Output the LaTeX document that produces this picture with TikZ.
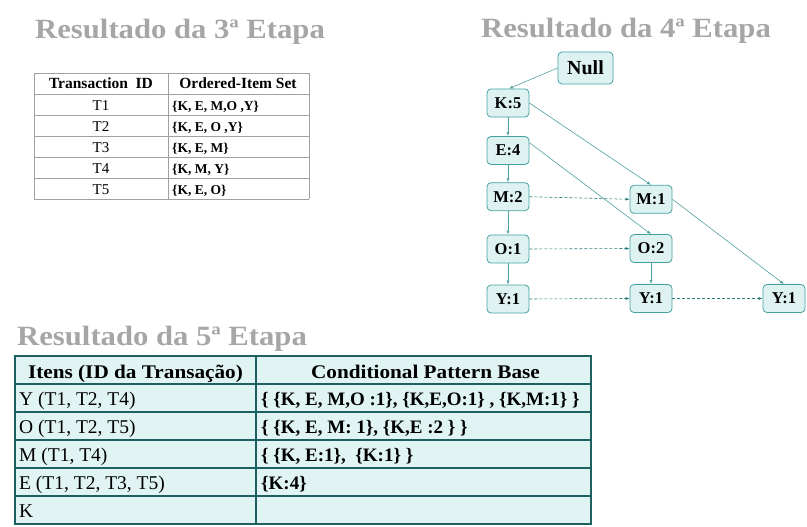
\documentclass[tikz,border=0pt]{standalone}
\usepackage{fontspec}
\setmainfont{Liberation Serif}
\newfontfamily\titlefont[FakeStretch=1.1]{Liberation Serif}
\usetikzlibrary{arrows.meta}
\definecolor{titlegray}{RGB}{166,166,166}
\definecolor{nodefill}{RGB}{222,242,242}
\definecolor{nodeborder}{RGB}{70,160,160}
\definecolor{edgesolid}{RGB}{80,160,160}
\definecolor{edgedash}{RGB}{40,125,125}
\definecolor{tabgray}{RGB}{160,160,160}
\definecolor{tabfill}{RGB}{224,244,244}
\definecolor{tabline}{RGB}{30,95,95}
\tikzset{
  titletext/.style={anchor=base west, inner sep=0pt, text=titlegray, font=\titlefont\bfseries\fontsize{27.9}{30}\selectfont},
  treenode/.style={draw=nodeborder, fill=nodefill, rounded corners=4pt, minimum width=42pt, minimum height=28pt, inner sep=0pt, line width=0.8pt, font=\bfseries\fontsize{16.5}{18}\selectfont},
  solidarrow/.style={draw=edgesolid, line width=0.6pt, -{Latex[length=4pt,width=3pt]}},
  dasharrow/.style={draw=edgedash, line width=0.6pt, dashed, dash pattern=on 3pt off 2pt, -{Latex[length=4pt,width=3pt]}},
  tabAhead/.style={anchor=base, inner sep=0pt, font=\bfseries\fontsize{15.5}{17}\selectfont},
  tabAcell/.style={anchor=base, inner sep=0pt, font=\fontsize{15}{17}\selectfont},
  tabAset/.style={anchor=base west, inner sep=0pt, font=\bfseries\fontsize{13.5}{15}\selectfont},
  tabBhead/.style={anchor=base, inner sep=0pt, font=\titlefont\bfseries\fontsize{19.3}{21}\selectfont},
  tabBitem/.style={anchor=base west, inner sep=0pt, font=\fontsize{19.5}{21}\selectfont},
  tabBbase/.style={anchor=base west, inner sep=0pt, font=\bfseries\fontsize{19}{21}\selectfont},
}
\begin{document}
\begin{tikzpicture}[x=1pt,y=-1pt]
\useasboundingbox (0,0) rectangle (807,527);

% ---------- titles ----------
\node[titletext] (t3) at (35,39) {Resultado da 3ª Etapa};
\node[titletext] (t4) at (481,38) {Resultado da 4ª Etapa};
\node[titletext] (t5) at (17,345) {Resultado da 5ª Etapa};

% ---------- table of stage 3 ----------
\foreach \yy in {73,94,115,136,157,178,199}
  \draw[tabgray, line width=0.8pt] (34,\yy) -- (309,\yy);
\draw[tabgray, line width=0.8pt] (34,73) -- (34,199);
\draw[tabgray, line width=0.8pt] (168,73) -- (168,199);
\draw[tabgray, line width=0.8pt] (309,73) -- (309,199);
\node[tabAhead] (ah1) at (101,89) {Transaction\enspace ID};
\node[tabAhead] (ah2) at (238,89) {Ordered-Item Set};
\node[tabAcell] (a1) at (101,110.5) {T1};
\node[tabAcell] (a2) at (101,131.5) {T2};
\node[tabAcell] (a3) at (101,152.5) {T3};
\node[tabAcell] (a4) at (101,173.5) {T4};
\node[tabAcell] (a5) at (101,194.5) {T5};
\node[tabAset] (s1) at (172,110.5) {\{K, E, M,O ,Y\}};
\node[tabAset] (s2) at (172,131.5) {\{K, E, O ,Y\}};
\node[tabAset] (s3) at (172,152.5) {\{K, E, M\}};
\node[tabAset] (s4) at (172,173.5) {\{K, M, Y\}};
\node[tabAset] (s5) at (172,194.5) {\{K, E, O\}};

% ---------- tree of stage 4 ----------
\node[treenode, minimum width=55pt, minimum height=32pt, font=\bfseries\fontsize{20}{22}\selectfont] (null) at (585.5,68) {Null};
\node[treenode] (k5) at (508,103) {K:5};
\node[treenode] (e4) at (508,150.5) {E:4};
\node[treenode] (m2) at (508,196.7) {M:2};
\node[treenode] (o1) at (508,249) {O:1};
\node[treenode] (y1a) at (508,299) {Y:1};
\node[treenode] (m1) at (651,199.3) {M:1};
\node[treenode] (o2) at (651,248.5) {O:2};
\node[treenode] (y1b) at (651,298.5) {Y:1};
\node[treenode] (y1c) at (784,298.5) {Y:1};

\draw[solidarrow] (null.west) -- ([xshift=1pt]k5.north);
\draw[solidarrow] (k5) -- (e4);
\draw[solidarrow] (e4) -- (m2);
\draw[solidarrow] (m2) -- (o1);
\draw[solidarrow] (o1) -- (y1a);
\draw[solidarrow] (k5.east) -- (m1.north);
\draw[solidarrow] (e4.20) -- (o2.north);
\draw[solidarrow] (m1.east) -- (y1c.north);
\draw[solidarrow] (o2) -- (y1b);
\draw[dasharrow] (m2.east) -- (m1.west);
\draw[dasharrow] (o1.east) -- (o2.west);
\draw[dasharrow] (y1a.east) -- (y1b.west);
\draw[dasharrow] (y1b.east) -- (y1c.west);

% ---------- table of stage 5 ----------
\fill[tabfill] (15,356) rectangle (591,524);
\foreach \yy in {384,412,440,468,496}
  \draw[tabline, line width=1.2pt] (15,\yy) -- (591,\yy);
\draw[tabline, line width=1.2pt] (256,356) -- (256,524);
\draw[tabline, line width=1.8pt] (15,356) rectangle (591,524);
\node[tabBhead] (bh1) at (135.5,378) {Itens (ID da Transação)};
\node[tabBhead] (bh2) at (425.5,378) {Conditional Pattern Base};
\node[tabBitem] (i1) at (19,405) {Y (T1, T2, T4)};
\node[tabBitem] (i2) at (19,433) {O (T1, T2, T5)};
\node[tabBitem] (i3) at (19,461) {M (T1, T4)};
\node[tabBitem] (i4) at (19,489) {E (T1, T2, T3, T5)};
\node[tabBitem] (i5) at (19,517) {K};
\node[tabBbase] (b1) at (261,405) {\{ \{K, E, M,O :1\}, \{K,E,O:1\} , \{K,M:1\} \}};
\node[tabBbase] (b2) at (261,433) {\{ \{K, E, M: 1\}, \{K,E :2 \} \}};
\node[tabBbase] (b3) at (261,461) {\{ \{K, E:1\},\ \ \{K:1\} \}};
\node[tabBbase] (b4) at (261,489) {\{K:4\}};
\end{tikzpicture}
\end{document}
